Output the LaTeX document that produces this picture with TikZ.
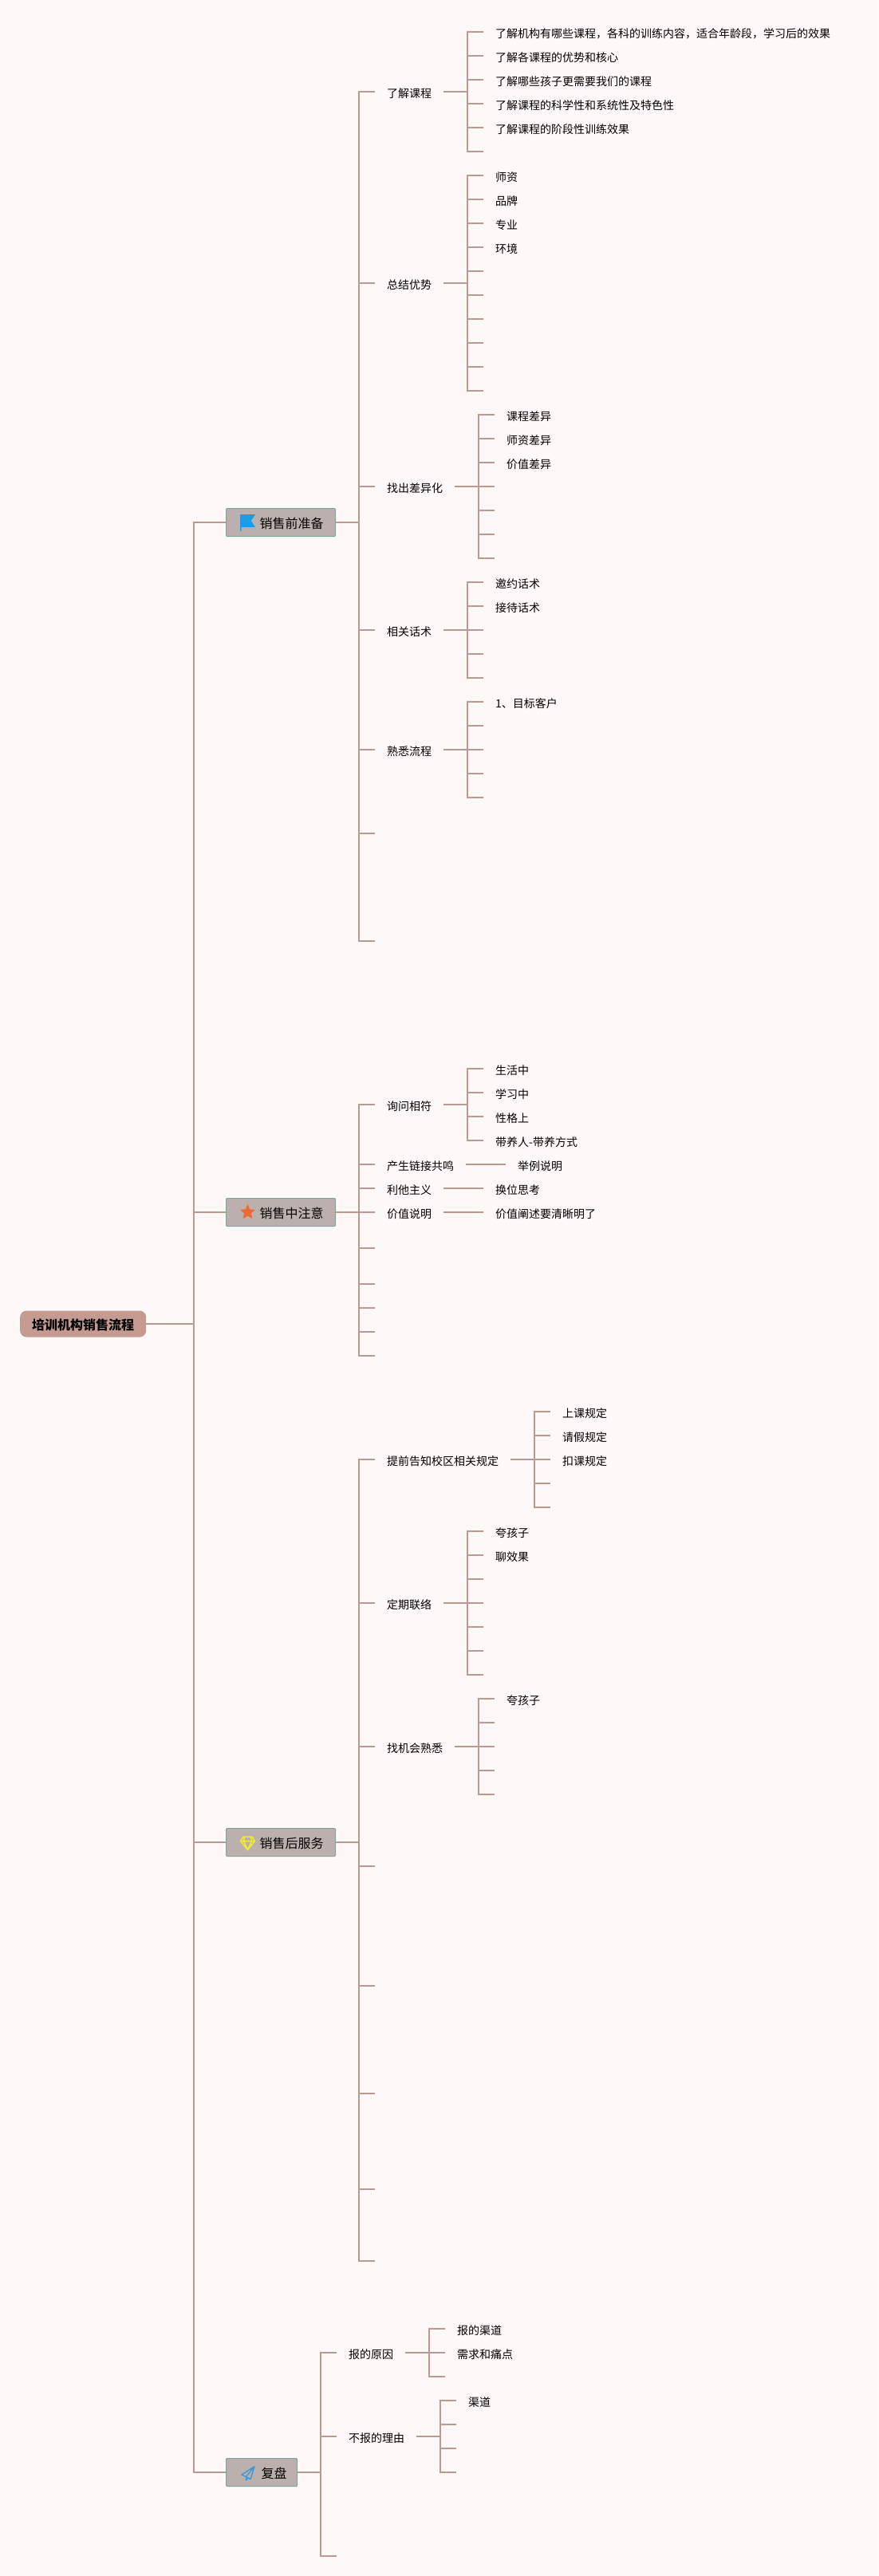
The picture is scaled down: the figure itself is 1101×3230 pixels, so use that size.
\documentclass[tikz,border=0pt]{standalone}
\usepackage{fontspec}
\setmainfont{Noto Sans CJK SC}
\usetikzlibrary{shapes}

\definecolor{paper}{HTML}{FFF9F9}
\definecolor{link}{HTML}{BC9A8F}
\definecolor{rootfill}{HTML}{C59B90}
\definecolor{topicfill}{HTML}{BBB0AE}
\definecolor{topicline}{HTML}{7FA89C}
\newcommand{\TopicText}[3]{\hspace*{#1pt}#3\hspace*{#2pt}}

\begin{document}
\begin{tikzpicture}[x = 1pt, y = -1pt]
\tikzstyle{RootStyle}=[shape = rectangle, rounded corners = 8pt,
                       fill = rootfill, anchor = west,
                       minimum width = 158pt, minimum height = 33pt,
                       inner sep = 0pt, text height = 16pt, text depth = 2pt,
                       font = \fontsize{16}{18}\selectfont\bfseries]
\tikzstyle{TopicStyle}=[shape = rectangle, rounded corners = 1pt,
                        draw = topicline, line width = 1pt,
                        fill = topicfill, anchor = west,
                        minimum height = 35pt,
                        inner sep = 0pt, text height = 16pt, text depth = 2pt,
                        font = \fontsize{16}{18}\selectfont]
\tikzstyle{VertexStyle}=[shape = rectangle, anchor = west,
                         inner xsep = 15pt, inner ysep = 0pt,
                         text height = 15pt, text depth = 0pt,
                         font = \fontsize{14}{16}\selectfont]
\tikzstyle{EdgeStyle}=[draw = link, line width = 2pt]

\useasboundingbox (0,0) rectangle (1101,3230);
\fill[paper] (0,0) rectangle (1101,3230);

\coordinate (j0) at (243,1660);
\coordinate (j1) at (450,655);
\coordinate (j11) at (586,115);
\coordinate (j12) at (586,355);
\coordinate (j13) at (600,610);
\coordinate (j14) at (586,790);
\coordinate (j15) at (586,940);
\coordinate (j2) at (450,1520);
\coordinate (j21) at (586,1385);
\coordinate (j3) at (450,2310);
\coordinate (j31) at (670,1830);
\coordinate (j32) at (586,2010);
\coordinate (j33) at (600,2190);
\coordinate (j4) at (402,3100);
\coordinate (j41) at (538,2950);
\coordinate (j42) at (552,3055);

\node[RootStyle] (v0) at (25,1660) {培训机构销售流程};

\node[TopicStyle] (v1) at (283,655) {\TopicText{42}{15}{销售前准备}};
\node[VertexStyle] (v11) at (470,115) {了解课程};
\node[VertexStyle] (v111) at (606,40) {了解机构有哪些课程，各科的训练内容，适合年龄段，学习后的效果};
\node[VertexStyle] (v112) at (606,70) {了解各课程的优势和核心};
\node[VertexStyle] (v113) at (606,100) {了解哪些孩子更需要我们的课程};
\node[VertexStyle] (v114) at (606,130) {了解课程的科学性和系统性及特色性};
\node[VertexStyle] (v115) at (606,160) {了解课程的阶段性训练效果};
\coordinate (v116) at (606,190);
\node[VertexStyle] (v12) at (470,355) {总结优势};
\node[VertexStyle] (v121) at (606,220) {师资};
\node[VertexStyle] (v122) at (606,250) {品牌};
\node[VertexStyle] (v123) at (606,280) {专业};
\node[VertexStyle] (v124) at (606,310) {环境};
\coordinate (v125) at (606,340);
\coordinate (v126) at (606,370);
\coordinate (v127) at (606,400);
\coordinate (v128) at (606,430);
\coordinate (v129) at (606,460);
\coordinate (v120) at (606,490);
\node[VertexStyle] (v13) at (470,610) {找出差异化};
\node[VertexStyle] (v131) at (620,520) {课程差异};
\node[VertexStyle] (v132) at (620,550) {师资差异};
\node[VertexStyle] (v133) at (620,580) {价值差异};
\coordinate (v134) at (620,610);
\coordinate (v135) at (620,640);
\coordinate (v136) at (620,670);
\coordinate (v137) at (620,700);
\node[VertexStyle] (v14) at (470,790) {相关话术};
\node[VertexStyle] (v141) at (606,730) {邀约话术};
\node[VertexStyle] (v142) at (606,760) {接待话术};
\coordinate (v143) at (606,790);
\coordinate (v144) at (606,820);
\coordinate (v145) at (606,850);
\node[VertexStyle] (v15) at (470,940) {熟悉流程};
\node[VertexStyle] (v151) at (606,880) {1、目标客户};
\coordinate (v152) at (606,910);
\coordinate (v153) at (606,940);
\coordinate (v154) at (606,970);
\coordinate (v155) at (606,1000);
\coordinate (v16) at (470,1045);
\coordinate (v17) at (470,1180);

\node[TopicStyle] (v2) at (283,1520) {\TopicText{42}{15}{销售中注意}};
\node[VertexStyle] (v21) at (470,1385) {询问相符};
\node[VertexStyle] (v211) at (606,1340) {生活中};
\node[VertexStyle] (v212) at (606,1370) {学习中};
\node[VertexStyle] (v213) at (606,1400) {性格上};
\node[VertexStyle] (v214) at (606,1430) {带养人-带养方式};
\node[VertexStyle] (v22) at (470,1460) {产生链接共鸣};
\node[VertexStyle] (v221) at (634,1460) {举例说明};
\node[VertexStyle] (v23) at (470,1490) {利他主义};
\node[VertexStyle] (v231) at (606,1490) {换位思考};
\node[VertexStyle] (v24) at (470,1520) {价值说明};
\node[VertexStyle] (v241) at (606,1520) {价值阐述要清晰明了};
\coordinate (v25) at (470,1565);
\coordinate (v26) at (470,1610);
\coordinate (v27) at (470,1640);
\coordinate (v28) at (470,1670);
\coordinate (v29) at (470,1700);

\node[TopicStyle] (v3) at (283,2310) {\TopicText{42}{15}{销售后服务}};
\node[VertexStyle] (v31) at (470,1830) {提前告知校区相关规定};
\node[VertexStyle] (v311) at (690,1770) {上课规定};
\node[VertexStyle] (v312) at (690,1800) {请假规定};
\node[VertexStyle] (v313) at (690,1830) {扣课规定};
\coordinate (v314) at (690,1860);
\coordinate (v315) at (690,1890);
\node[VertexStyle] (v32) at (470,2010) {定期联络};
\node[VertexStyle] (v321) at (606,1920) {夸孩子};
\node[VertexStyle] (v322) at (606,1950) {聊效果};
\coordinate (v323) at (606,1980);
\coordinate (v324) at (606,2010);
\coordinate (v325) at (606,2040);
\coordinate (v326) at (606,2070);
\coordinate (v327) at (606,2100);
\node[VertexStyle] (v33) at (470,2190) {找机会熟悉};
\node[VertexStyle] (v331) at (620,2130) {夸孩子};
\coordinate (v332) at (620,2160);
\coordinate (v333) at (620,2190);
\coordinate (v334) at (620,2220);
\coordinate (v335) at (620,2250);
\coordinate (v34) at (470,2340);
\coordinate (v35) at (470,2490);
\coordinate (v36) at (470,2625);
\coordinate (v37) at (470,2745);
\coordinate (v38) at (470,2835);

\node[TopicStyle] (v4) at (283,3100) {\TopicText{44}{13}{复盘}};
\node[VertexStyle] (v41) at (422,2950) {报的原因};
\node[VertexStyle] (v411) at (558,2920) {报的渠道};
\node[VertexStyle] (v412) at (558,2950) {需求和痛点};
\coordinate (v413) at (558,2980);
\node[VertexStyle] (v42) at (422,3055) {不报的理由};
\node[VertexStyle] (v421) at (572,3010) {渠道};
\coordinate (v422) at (572,3040);
\coordinate (v423) at (572,3070);
\coordinate (v424) at (572,3100);
\coordinate (v43) at (422,3205);

\draw[EdgeStyle] (v0.east) -- (j0);
\draw[EdgeStyle] (j0) |- (v1.west);
\draw[EdgeStyle] (j0) |- (v2.west);
\draw[EdgeStyle] (j0) |- (v3.west);
\draw[EdgeStyle] (j0) |- (v4.west);

\draw[EdgeStyle] (v1.east) -- (j1);
\draw[EdgeStyle] (j1) |- (v11.west);
\draw[EdgeStyle] (j1) |- (v12.west);
\draw[EdgeStyle] (j1) |- (v13.west);
\draw[EdgeStyle] (j1) |- (v14.west);
\draw[EdgeStyle] (j1) |- (v15.west);
\draw[EdgeStyle] (j1) |- (v16);
\draw[EdgeStyle] (j1) |- (v17);
\draw[EdgeStyle] (v11.east) -- (j11);
\draw[EdgeStyle] (j11) |- (v111.west);
\draw[EdgeStyle] (j11) |- (v112.west);
\draw[EdgeStyle] (j11) |- (v113.west);
\draw[EdgeStyle] (j11) |- (v114.west);
\draw[EdgeStyle] (j11) |- (v115.west);
\draw[EdgeStyle] (j11) |- (v116);
\draw[EdgeStyle] (v12.east) -- (j12);
\draw[EdgeStyle] (j12) |- (v121.west);
\draw[EdgeStyle] (j12) |- (v122.west);
\draw[EdgeStyle] (j12) |- (v123.west);
\draw[EdgeStyle] (j12) |- (v124.west);
\draw[EdgeStyle] (j12) |- (v125);
\draw[EdgeStyle] (j12) |- (v126);
\draw[EdgeStyle] (j12) |- (v127);
\draw[EdgeStyle] (j12) |- (v128);
\draw[EdgeStyle] (j12) |- (v129);
\draw[EdgeStyle] (j12) |- (v120);
\draw[EdgeStyle] (v13.east) -- (j13);
\draw[EdgeStyle] (j13) |- (v131.west);
\draw[EdgeStyle] (j13) |- (v132.west);
\draw[EdgeStyle] (j13) |- (v133.west);
\draw[EdgeStyle] (j13) |- (v134);
\draw[EdgeStyle] (j13) |- (v135);
\draw[EdgeStyle] (j13) |- (v136);
\draw[EdgeStyle] (j13) |- (v137);
\draw[EdgeStyle] (v14.east) -- (j14);
\draw[EdgeStyle] (j14) |- (v141.west);
\draw[EdgeStyle] (j14) |- (v142.west);
\draw[EdgeStyle] (j14) |- (v143);
\draw[EdgeStyle] (j14) |- (v144);
\draw[EdgeStyle] (j14) |- (v145);
\draw[EdgeStyle] (v15.east) -- (j15);
\draw[EdgeStyle] (j15) |- (v151.west);
\draw[EdgeStyle] (j15) |- (v152);
\draw[EdgeStyle] (j15) |- (v153);
\draw[EdgeStyle] (j15) |- (v154);
\draw[EdgeStyle] (j15) |- (v155);

\draw[EdgeStyle] (v2.east) -- (j2);
\draw[EdgeStyle] (j2) |- (v21.west);
\draw[EdgeStyle] (j2) |- (v22.west);
\draw[EdgeStyle] (j2) |- (v23.west);
\draw[EdgeStyle] (j2) |- (v24.west);
\draw[EdgeStyle] (j2) |- (v25);
\draw[EdgeStyle] (j2) |- (v26);
\draw[EdgeStyle] (j2) |- (v27);
\draw[EdgeStyle] (j2) |- (v28);
\draw[EdgeStyle] (j2) |- (v29);
\draw[EdgeStyle] (v21.east) -- (j21);
\draw[EdgeStyle] (j21) |- (v211.west);
\draw[EdgeStyle] (j21) |- (v212.west);
\draw[EdgeStyle] (j21) |- (v213.west);
\draw[EdgeStyle] (j21) |- (v214.west);
\draw[EdgeStyle] (v22.east) -- (v221.west);
\draw[EdgeStyle] (v23.east) -- (v231.west);
\draw[EdgeStyle] (v24.east) -- (v241.west);

\draw[EdgeStyle] (v3.east) -- (j3);
\draw[EdgeStyle] (j3) |- (v31.west);
\draw[EdgeStyle] (j3) |- (v32.west);
\draw[EdgeStyle] (j3) |- (v33.west);
\draw[EdgeStyle] (j3) |- (v34);
\draw[EdgeStyle] (j3) |- (v35);
\draw[EdgeStyle] (j3) |- (v36);
\draw[EdgeStyle] (j3) |- (v37);
\draw[EdgeStyle] (j3) |- (v38);
\draw[EdgeStyle] (v31.east) -- (j31);
\draw[EdgeStyle] (j31) |- (v311.west);
\draw[EdgeStyle] (j31) |- (v312.west);
\draw[EdgeStyle] (j31) |- (v313.west);
\draw[EdgeStyle] (j31) |- (v314);
\draw[EdgeStyle] (j31) |- (v315);
\draw[EdgeStyle] (v32.east) -- (j32);
\draw[EdgeStyle] (j32) |- (v321.west);
\draw[EdgeStyle] (j32) |- (v322.west);
\draw[EdgeStyle] (j32) |- (v323);
\draw[EdgeStyle] (j32) |- (v324);
\draw[EdgeStyle] (j32) |- (v325);
\draw[EdgeStyle] (j32) |- (v326);
\draw[EdgeStyle] (j32) |- (v327);
\draw[EdgeStyle] (v33.east) -- (j33);
\draw[EdgeStyle] (j33) |- (v331.west);
\draw[EdgeStyle] (j33) |- (v332);
\draw[EdgeStyle] (j33) |- (v333);
\draw[EdgeStyle] (j33) |- (v334);
\draw[EdgeStyle] (j33) |- (v335);

\draw[EdgeStyle] (v4.east) -- (j4);
\draw[EdgeStyle] (j4) |- (v41.west);
\draw[EdgeStyle] (j4) |- (v42.west);
\draw[EdgeStyle] (j4) |- (v43);
\draw[EdgeStyle] (v41.east) -- (j41);
\draw[EdgeStyle] (j41) |- (v411.west);
\draw[EdgeStyle] (j41) |- (v412.west);
\draw[EdgeStyle] (j41) |- (v413);
\draw[EdgeStyle] (v42.east) -- (j42);
\draw[EdgeStyle] (j42) |- (v421.west);
\draw[EdgeStyle] (j42) |- (v422);
\draw[EdgeStyle] (j42) |- (v423);
\draw[EdgeStyle] (j42) |- (v424);

\fill[fill = {rgb,255:red,28;green,155;blue,230}] (301,645) -- (320,645) -- (315,653) -- (320,661) -- (302.5,661) -- (302.5,666) -- (301,666) -- cycle;
\node[shape = star, star points = 5, star point ratio = 2.2, fill = {rgb,255:red,235;green,106;blue,52},
      inner sep = 0pt, minimum size = 20pt] (star2) at (310.5,1520) {};
\draw[draw = {rgb,255:red,241;green,232;blue,58}, line width = 1.5pt, line join = round]
      (305,2303) -- (316,2303) -- (319.5,2308.5) -- (310.5,2319.5) -- (301.5,2308.5) -- cycle
      (301.5,2308.5) -- (319.5,2308.5) (306.5,2303) -- (305.5,2308.5) -- (310.5,2319.5) -- (315.5,2308.5) -- (314.5,2303);
\draw[draw = {rgb,255:red,59;green,154;blue,219}, line width = 1.4pt, line join = round]
      (319,3092.5) -- (303,3103) -- (308.5,3105.5) -- (319,3092.5) -- (314,3108.5) -- (308.5,3105.5) -- (308.5,3110) -- (311,3107);
\end{tikzpicture}
\end{document}
